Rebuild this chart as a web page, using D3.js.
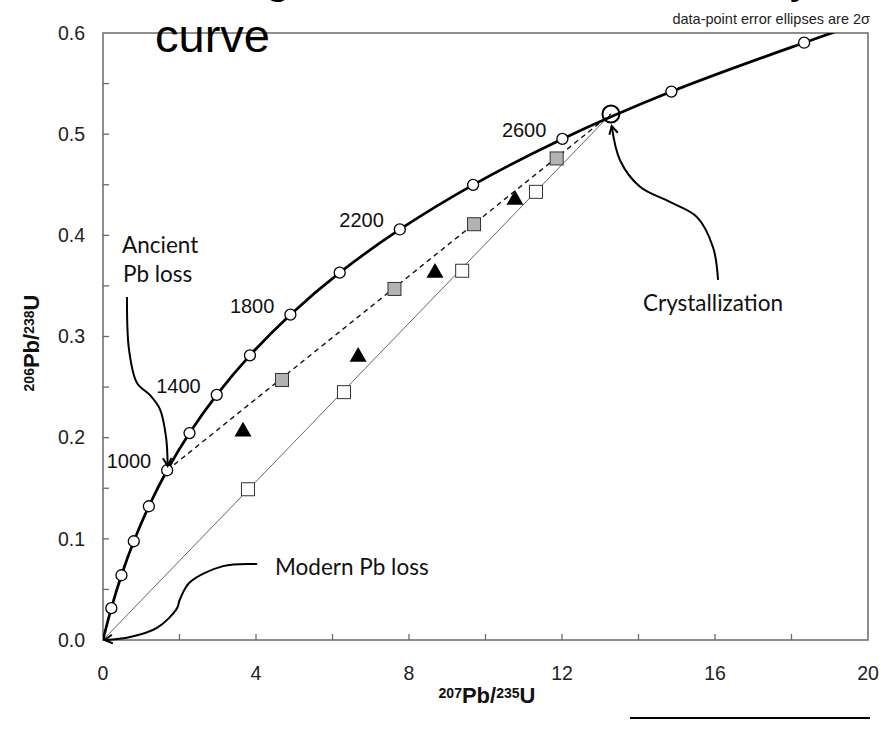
<!DOCTYPE html>
<html>
<head>
<meta charset="utf-8">
<script src="https://cdn.jsdelivr.net/npm/d3@7"></script>
<style>
  html, body { margin: 0; padding: 0; background: #fff; }
  svg { display: block; }
</style>
</head>
<body>
<svg id="chart" width="881" height="729"></svg>
<script>
// Concordia curve (Wetherill): 207Pb/235U vs 206Pb/238U, age nodes every 200 Ma
const concordiaAges = [200, 400, 600, 800, 1000, 1200, 1400, 1600, 1800, 2000, 2200, 2400, 2600, 2800, 3000];
const concordiaX = [0.218, 0.482, 0.805, 1.199, 1.677, 2.262, 2.973, 3.842, 4.899, 6.188, 7.760, 9.676, 12.01, 14.86, 18.33];
const concordiaY = [0.0315, 0.0640, 0.0976, 0.1322, 0.1678, 0.2045, 0.2423, 0.2814, 0.3216, 0.3631, 0.4058, 0.4499, 0.4953, 0.5421, 0.5904];
// curve runs from the origin and continues beyond the top of the frame
const curveStart = [0, 0];
const curveEnd = [22.37, 0.6428];

// labelled ages along the curve
const ageLabels = [1000, 1400, 1800, 2200, 2600];

// crystallization age (upper intercept) and ancient Pb-loss event (lower intercept)
const crystallization = [13.28, 0.520];
const ancientLoss = [1.677, 0.1678];
const modernLoss = [0, 0];

// discordant analyses: ancient Pb loss (grey squares), modern Pb loss (open squares), scattered (triangles)
const ancientX = [4.68, 7.62, 9.70, 11.86];
const ancientY = [0.257, 0.347, 0.411, 0.476];
const modernX = [3.79, 6.30, 9.39, 11.32];
const modernY = [0.149, 0.245, 0.365, 0.443];
const scatterX = [3.66, 6.67, 8.68, 10.77];
const scatterY = [0.206, 0.280, 0.363, 0.435];

// axis ticks
const xTickLabels = [0, 4, 8, 12, 16, 20];
const xMinorTicks = [2, 6, 10, 14, 18];
const yTickLabels = [0.0, 0.1, 0.2, 0.3, 0.4, 0.5, 0.6];
const yMinorTicks = [0.05, 0.15, 0.25, 0.35, 0.45, 0.55];

// annotation arrows, in data units
const ancientArrow = [[0.627, 0.339], [0.680, 0.287], [0.889, 0.254], [1.229, 0.242], [1.490, 0.228], [1.650, 0.200], [1.690, 0.172]];
const crystArrow = [[16.08, 0.356], [15.95, 0.388], [15.53, 0.418], [14.82, 0.433], [14.04, 0.448], [13.52, 0.474], [13.30, 0.508]];
const modernArrow = [[4.03, 0.075], [3.14, 0.073], [2.27, 0.057], [2.01, 0.040], [1.93, 0.031], [1.41, 0.012], [0.71, 0.003], [0.04, 0.0]];

const svg = d3.select("#chart");
const W = 881, H = 729;
const margin = { left: 103, right: 13, top: 33, bottom: 89 };
const pw = W - margin.left - margin.right;
const ph = H - margin.top - margin.bottom;

const x = d3.scaleLinear().domain([0, 20]).range([margin.left, margin.left + pw]);
const y = d3.scaleLinear().domain([0, 0.6]).range([margin.top + ph, margin.top]);

svg.append("rect").attr("width", W).attr("height", H).attr("fill", "#fff");

svg.append("defs").append("clipPath").attr("id", "plotclip")
  .append("rect").attr("x", margin.left).attr("y", margin.top).attr("width", pw).attr("height", ph);

const tickFont = "'Liberation Sans', Arial, sans-serif";
const noteFont = "Lato, 'Open Sans', sans-serif";

// frame
svg.append("rect")
  .attr("x", margin.left).attr("y", margin.top).attr("width", pw).attr("height", ph)
  .attr("fill", "none").attr("stroke", "#6a6a6a").attr("stroke-width", 1.5);

// inward ticks
const tickLen = 6;
const gTicks = svg.append("g").attr("stroke", "#6a6a6a").attr("stroke-width", 1.3);
xTickLabels.concat(xMinorTicks).forEach(v => {
  if (v === 0 || v === 20) return;
  gTicks.append("line").attr("x1", x(v)).attr("x2", x(v)).attr("y1", y(0)).attr("y2", y(0) - tickLen);
});
yTickLabels.concat(yMinorTicks).forEach(v => {
  if (v === 0 || v === 0.6) return;
  gTicks.append("line").attr("x1", x(0)).attr("x2", x(0) + tickLen).attr("y1", y(v)).attr("y2", y(v));
});

// tick labels
svg.append("g").selectAll("text").data(xTickLabels).join("text")
  .attr("x", d => x(d)).attr("y", y(0) + 40)
  .attr("text-anchor", "middle")
  .attr("font-family", tickFont).attr("font-size", 19.5).attr("fill", "#222")
  .text(d => d3.format("d")(d));
svg.append("g").selectAll("text").data(yTickLabels).join("text")
  .attr("x", x(0) - 18).attr("y", d => y(d)).attr("dy", "0.35em")
  .attr("text-anchor", "end")
  .attr("font-family", tickFont).attr("font-size", 19.5).attr("fill", "#222")
  .text(d => d3.format(".1f")(d));

// axis titles with isotope superscripts
function isotopeLabel(sel, a, b, c, d) {
  sel.append("tspan").attr("font-size", 14).attr("baseline-shift", "38%").text(a);
  sel.append("tspan").text(b);
  sel.append("tspan").attr("font-size", 14).attr("baseline-shift", "38%").text(c);
  sel.append("tspan").text(d);
}
const xt = svg.append("text")
  .attr("x", 487).attr("y", 703).attr("text-anchor", "middle")
  .attr("font-family", tickFont).attr("font-weight", "bold").attr("font-size", 22).attr("fill", "#111");
isotopeLabel(xt, "207", "Pb/", "235", "U");
const yt = svg.append("text")
  .attr("transform", "translate(39," + 343 + ") rotate(-90)").attr("text-anchor", "middle")
  .attr("font-family", tickFont).attr("font-weight", "bold").attr("font-size", 22).attr("fill", "#111");
isotopeLabel(yt, "206", "Pb/", "238", "U");

const plot = svg.append("g").attr("clip-path", "url(#plotclip)");

// reference lines toward the crystallization point
plot.append("line")
  .attr("x1", x(modernLoss[0])).attr("y1", y(modernLoss[1]))
  .attr("x2", x(crystallization[0])).attr("y2", y(crystallization[1]))
  .attr("stroke", "#555").attr("stroke-width", 0.9);
plot.append("line")
  .attr("x1", x(ancientLoss[0])).attr("y1", y(ancientLoss[1]))
  .attr("x2", x(crystallization[0])).attr("y2", y(crystallization[1]))
  .attr("stroke", "#111").attr("stroke-width", 1.4).attr("stroke-dasharray", "5,4");

// concordia curve
const curvePts = [curveStart].concat(concordiaX.map((v, i) => [v, concordiaY[i]])).concat([curveEnd]);
plot.append("path")
  .attr("d", d3.line().x(d => x(d[0])).y(d => y(d[1])).curve(d3.curveCatmullRom.alpha(0.5))(curvePts))
  .attr("fill", "none").attr("stroke", "#000").attr("stroke-width", 2.7);

plot.selectAll("circle.node").data(concordiaAges).join("circle")
  .attr("class", "node")
  .attr("cx", (d, i) => x(concordiaX[i])).attr("cy", (d, i) => y(concordiaY[i]))
  .attr("r", 5.5).attr("fill", "#fff").attr("stroke", "#000").attr("stroke-width", 1.3);

// crystallization point
plot.append("circle")
  .attr("cx", x(crystallization[0])).attr("cy", y(crystallization[1]))
  .attr("r", 8.5).attr("fill", "none").attr("stroke", "#000").attr("stroke-width", 2);

// data points
const sq = 13;
plot.selectAll("rect.ancient").data(ancientX).join("rect")
  .attr("class", "ancient")
  .attr("x", (d, i) => x(d) - sq / 2).attr("y", (d, i) => y(ancientY[i]) - sq / 2)
  .attr("width", sq).attr("height", sq)
  .attr("fill", "#b3b3b3").attr("stroke", "#333").attr("stroke-width", 1);
plot.selectAll("rect.modern").data(modernX).join("rect")
  .attr("class", "modern")
  .attr("x", (d, i) => x(d) - sq / 2).attr("y", (d, i) => y(modernY[i]) - sq / 2)
  .attr("width", sq).attr("height", sq)
  .attr("fill", "#fff").attr("stroke", "#333").attr("stroke-width", 1);
const tri = d3.symbol().type(d3.symbolTriangle).size(125);
plot.selectAll("path.scatter").data(scatterX).join("path")
  .attr("class", "scatter")
  .attr("transform", (d, i) => "translate(" + x(d) + "," + y(scatterY[i]) + ")")
  .attr("d", tri).attr("fill", "#000");

// age labels
svg.append("g").selectAll("text").data(ageLabels).join("text")
  .attr("x", d => x(concordiaX[concordiaAges.indexOf(d)]) - 16)
  .attr("y", d => y(concordiaY[concordiaAges.indexOf(d)]) - 2)
  .attr("text-anchor", "end")
  .attr("font-family", tickFont).attr("font-size", 20).attr("fill", "#111")
  .text(d => d);

// annotation arrows
function arrow(pts) {
  const p = pts.map(d => [x(d[0]), y(d[1])]);
  svg.append("path")
    .attr("d", d3.line().curve(d3.curveCatmullRom.alpha(0.5))(p))
    .attr("fill", "none").attr("stroke", "#000").attr("stroke-width", 2);
  const a = p[p.length - 1], b = p[p.length - 2];
  const ang = Math.atan2(a[1] - b[1], a[0] - b[0]);
  const L = 9, spread = 0.5;
  const h1 = [a[0] - L * Math.cos(ang - spread), a[1] - L * Math.sin(ang - spread)];
  const h2 = [a[0] - L * Math.cos(ang + spread), a[1] - L * Math.sin(ang + spread)];
  svg.append("path")
    .attr("d", d3.line()([h1, a, h2]))
    .attr("fill", "none").attr("stroke", "#000").attr("stroke-width", 2);
}
arrow(ancientArrow);
arrow(crystArrow);
arrow(modernArrow);

// annotation text
const notes = svg.append("g").attr("font-family", noteFont).attr("font-size", 22.5).attr("fill", "#111");
notes.append("text").attr("x", 122).attr("y", 253).text("Ancient");
notes.append("text").attr("x", 123).attr("y", 282).text("Pb loss");
notes.append("text").attr("x", 643).attr("y", 311).text("Crystallization");
notes.append("text").attr("x", 275).attr("y", 575).text("Modern Pb loss");

svg.append("text")
  .attr("x", 870).attr("y", 24).attr("text-anchor", "end")
  .attr("font-family", tickFont).attr("font-size", 14.5).attr("fill", "#222")
  .text("data-point error ellipses are 2σ");

// chart title (wraps; first line runs above the frame)
const title = svg.append("text")
  .attr("font-family", tickFont).attr("font-size", 47).attr("fill", "#000");
title.append("tspan").attr("x", 155).attr("y", -8).text("Mixing lines and lead loss away from the concordia");
title.append("tspan").attr("x", 155).attr("y", 52).text("curve");

// rule below the plot
svg.append("line")
  .attr("x1", 630).attr("x2", 870).attr("y1", 718).attr("y2", 718)
  .attr("stroke", "#000").attr("stroke-width", 2);
</script>
</body>
</html>
